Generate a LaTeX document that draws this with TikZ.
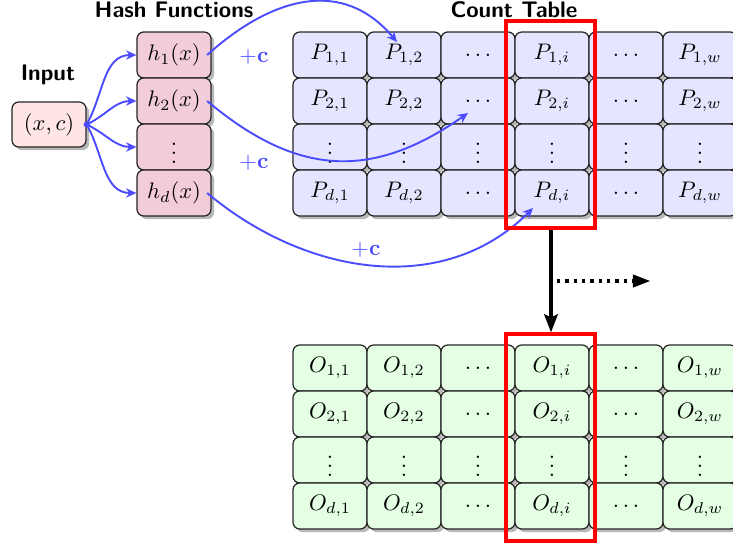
\documentclass[tikz,border=0pt]{standalone}
\usetikzlibrary{shadows,arrows.meta}
\newcommand\tabrow[9]{%
 \node[#3] (#1-1) at (330,#2) {#4};
 \node[#3] (#1-2) at (404,#2) {#5};
 \node[#3] (#1-3) at (478,#2) {#6};
 \node[#3] (#1-4) at (552,#2) {#7};
 \node[#3] (#1-5) at (626,#2) {#8};
 \node[#3] (#1-6) at (700,#2) {#9};
}
\begin{document}
\begin{tikzpicture}[x=0.4444pt,y=0.4444pt,
  cell/.style={draw=black!85, line width=0.55pt, rounded corners=3pt,
    minimum width=32.9pt, minimum height=20.44pt, inner sep=0pt,
    drop shadow={shadow xshift=1.4pt, shadow yshift=-1.4pt, fill=black!28, opacity=1}},
  pcell/.style={cell, fill=blue!10},
  ocell/.style={cell, fill=green!10},
  hcell/.style={cell, fill=purple!20},
  incell/.style={cell, fill=red!10, minimum height=20pt},
  title/.style={font=\sffamily\bfseries},
  hash/.style={draw=blue!70, line width=0.85pt, -{Stealth[length=4.6pt,width=4.2pt]}},
  plus/.style={text=blue!70},
  redbox/.style={draw=red, line width=1.85pt},
  bigarrow/.style={line width=1.9pt, -{Stealth[length=8pt,width=6pt,inset=1.4pt]}},
  dotarrow/.style={line width=1.9pt, dash pattern=on 1.5pt off 2.2pt, -{Triangle[length=8pt,width=5.2pt]}},
]
\useasboundingbox (0,0) rectangle (733,-544);

% titles
\node[title] (tin) at (48,-75) {Input};
\node[title] (thash) at (174,-10) {Hash Functions};
\node[title] (tcount) at (514,-10) {Count Table};

% input and hash functions
\node[incell] (in) at (49,-124.5) {$(x,c)$};
\node[hcell] (h1) at (174,-55) {$h_1(x)$};
\node[hcell] (h2) at (174,-101) {$h_2(x)$};
\node[hcell] (h3) at (174,-147) {$\vdots$};
\node[hcell] (hd) at (174,-193) {$h_d(x)$};

% count table
\tabrow{P1}{-55}{pcell}{$P_{1,1}$}{$P_{1,2}$}{$\dots$}{$P_{1,i}$}{$\dots$}{$P_{1,w}$}
\tabrow{P2}{-101}{pcell}{$P_{2,1}$}{$P_{2,2}$}{$\dots$}{$P_{2,i}$}{$\dots$}{$P_{2,w}$}
\tabrow{P3}{-147}{pcell}{$\vdots$}{$\vdots$}{$\vdots$}{$\vdots$}{$\vdots$}{$\vdots$}
\tabrow{P4}{-193}{pcell}{$P_{d,1}$}{$P_{d,2}$}{$\dots$}{$P_{d,i}$}{$\dots$}{$P_{d,w}$}

% output table
\tabrow{O1}{-368}{ocell}{$O_{1,1}$}{$O_{1,2}$}{$\dots$}{$O_{1,i}$}{$\dots$}{$O_{1,w}$}
\tabrow{O2}{-414}{ocell}{$O_{2,1}$}{$O_{2,2}$}{$\dots$}{$O_{2,i}$}{$\dots$}{$O_{2,w}$}
\tabrow{O3}{-460}{ocell}{$\vdots$}{$\vdots$}{$\vdots$}{$\vdots$}{$\vdots$}{$\vdots$}
\tabrow{O4}{-506}{ocell}{$O_{d,1}$}{$O_{d,2}$}{$\dots$}{$O_{d,i}$}{$\dots$}{$O_{d,w}$}

% input -> hash
\draw[hash] (in.east) to[out=60,in=180] (h1.west);
\draw[hash] (in.east) to[out=25,in=180] (h2.west);
\draw[hash] (in.east) to[out=-25,in=180] (h3.west);
\draw[hash] (in.east) to[out=-60,in=180] (hd.west);
\fill[blue!70] (in.east) circle (3);

% hash -> table
\draw[hash] ([xshift=-2]h1.east) to[out=42,in=130,looseness=1.15] ([shift={(-7,13)}]P1-2.center);
\draw[hash] ([xshift=-2]h2.east) to[out=-40,in=-145,looseness=1.15] ([shift={(-10,-12)}]P2-3.center);
\draw[hash] ([xshift=-2]hd.east) to[out=-40,in=-135] ([shift={(-19,-15)}]P4-4.center);
\node[plus] (c1) at (254,-57) {$\mathbf{+c}$};
\node[plus] (c2) at (254,-163) {$\mathbf{+c}$};
\node[plus] (c3) at (366,-250) {$\mathbf{+c}$};

% red boxes
\draw[redbox] ([shift={(-8,10)}]P1-4.north west) rectangle ([shift={(5,-11)}]P4-4.south east);
\draw[redbox] ([shift={(-8,10)}]O1-4.north west) rectangle ([shift={(5,-11)}]O4-4.south east);
\coordinate (ra) at ([shift={(-1,-13)}]P4-4.south);
\coordinate (rb) at ([shift={(-1,12)}]O1-4.north);
\draw[bigarrow] (ra) -- (rb);
\coordinate (da) at (557,-281);
\coordinate (db) at (651,-281);
\draw[dotarrow] (da) -- (db);
\end{tikzpicture}
\end{document}
